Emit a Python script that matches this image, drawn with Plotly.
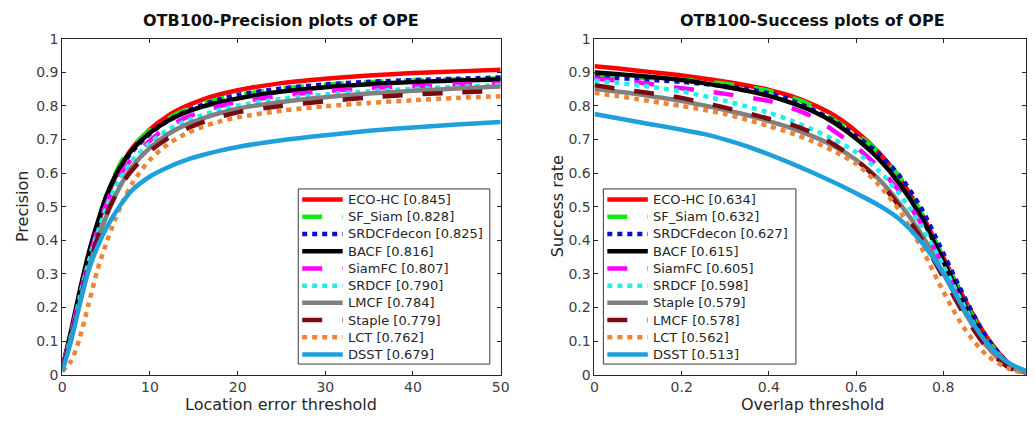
import plotly.graph_objects as go

# ---------------- data ----------------
prec_thresholds = [0, 1, 2, 3, 4, 5, 6, 7, 8, 10, 12, 14, 16, 18, 20, 25, 30, 35, 40, 45, 50]
prec_names = ["ECO-HC", "SF_Siam", "SRDCFdecon", "BACF", "SiamFC", "SRDCF",
              "LMCF", "Staple", "LCT", "DSST"]
prec_scores = [0.845, 0.828, 0.825, 0.816, 0.807, 0.790, 0.784, 0.779, 0.762, 0.679]
prec_eco_hc = [0.02, 0.12, 0.24, 0.35, 0.44, 0.52, 0.585, 0.635, 0.675, 0.73, 0.77, 0.798, 0.819, 0.835, 0.847, 0.868, 0.881, 0.891, 0.898, 0.903, 0.908]
prec_sf_siam = [0.02, 0.12, 0.245, 0.355, 0.45, 0.53, 0.595, 0.645, 0.68, 0.727, 0.762, 0.788, 0.807, 0.821, 0.832, 0.851, 0.863, 0.871, 0.876, 0.879, 0.882]
prec_srdcfdecon = [0.02, 0.12, 0.24, 0.35, 0.44, 0.52, 0.585, 0.63, 0.665, 0.717, 0.755, 0.783, 0.803, 0.82, 0.833, 0.852, 0.864, 0.872, 0.877, 0.881, 0.885]
prec_bacf = [0.02, 0.13, 0.25, 0.36, 0.45, 0.53, 0.59, 0.635, 0.67, 0.72, 0.755, 0.78, 0.798, 0.811, 0.822, 0.843, 0.856, 0.865, 0.871, 0.876, 0.879]
prec_siamfc = [0.02, 0.12, 0.235, 0.34, 0.43, 0.505, 0.565, 0.61, 0.645, 0.697, 0.737, 0.764, 0.784, 0.8, 0.811, 0.831, 0.844, 0.853, 0.859, 0.864, 0.867]
prec_srdcf = [0.02, 0.115, 0.23, 0.335, 0.42, 0.495, 0.555, 0.6, 0.638, 0.69, 0.728, 0.754, 0.773, 0.789, 0.801, 0.821, 0.834, 0.844, 0.851, 0.857, 0.862]
prec_lmcf = [0.02, 0.11, 0.215, 0.315, 0.4, 0.47, 0.53, 0.58, 0.62, 0.675, 0.715, 0.743, 0.763, 0.779, 0.792, 0.812, 0.826, 0.837, 0.845, 0.852, 0.858]
prec_staple = [0.02, 0.11, 0.22, 0.32, 0.405, 0.475, 0.53, 0.575, 0.61, 0.665, 0.703, 0.73, 0.751, 0.768, 0.781, 0.8, 0.814, 0.825, 0.834, 0.84, 0.845]
prec_lct = [0.01, 0.04, 0.11, 0.21, 0.31, 0.39, 0.46, 0.52, 0.57, 0.64, 0.685, 0.716, 0.738, 0.754, 0.766, 0.786, 0.799, 0.809, 0.817, 0.824, 0.829]
prec_dsst = [0.01, 0.1, 0.21, 0.31, 0.38, 0.435, 0.48, 0.518, 0.55, 0.59, 0.617, 0.638, 0.654, 0.667, 0.678, 0.698, 0.713, 0.726, 0.736, 0.745, 0.752]
prec_curves = [prec_eco_hc, prec_sf_siam, prec_srdcfdecon, prec_bacf, prec_siamfc,
               prec_srdcf, prec_lmcf, prec_staple, prec_lct, prec_dsst]

succ_thresholds = [0, 0.05, 0.1, 0.15, 0.2, 0.25, 0.3, 0.35, 0.4, 0.45, 0.5,
                   0.55, 0.6, 0.65, 0.7, 0.75, 0.8, 0.85, 0.9, 0.95, 1.0]
succ_names = ["ECO-HC", "SF_Siam", "SRDCFdecon", "BACF", "SiamFC", "SRDCF",
              "Staple", "LMCF", "LCT", "DSST"]
succ_scores = [0.634, 0.632, 0.627, 0.615, 0.605, 0.598, 0.579, 0.578, 0.562, 0.513]
succ_eco_hc = [0.918, 0.912, 0.905, 0.898, 0.891, 0.882, 0.872, 0.861, 0.848, 0.83, 0.805, 0.772, 0.725, 0.665, 0.585, 0.48, 0.35, 0.222, 0.112, 0.035, 0.003]
succ_sf_siam = [0.89, 0.888, 0.885, 0.882, 0.878, 0.873, 0.866, 0.857, 0.845, 0.826, 0.8, 0.758, 0.717, 0.665, 0.588, 0.482, 0.35, 0.215, 0.105, 0.032, 0.003]
succ_srdcfdecon = [0.885, 0.883, 0.88, 0.876, 0.872, 0.866, 0.859, 0.85, 0.838, 0.818, 0.79, 0.755, 0.712, 0.66, 0.592, 0.495, 0.362, 0.228, 0.11, 0.035, 0.003]
succ_bacf = [0.9, 0.895, 0.89, 0.884, 0.877, 0.868, 0.857, 0.845, 0.83, 0.81, 0.785, 0.75, 0.703, 0.645, 0.568, 0.468, 0.338, 0.205, 0.095, 0.028, 0.002]
succ_siamfc = [0.882, 0.876, 0.87, 0.862, 0.853, 0.845, 0.836, 0.826, 0.815, 0.795, 0.768, 0.725, 0.678, 0.62, 0.545, 0.448, 0.322, 0.195, 0.088, 0.026, 0.002]
succ_srdcf = [0.875, 0.869, 0.862, 0.853, 0.843, 0.83, 0.815, 0.798, 0.78, 0.757, 0.73, 0.7, 0.662, 0.61, 0.537, 0.442, 0.325, 0.2, 0.092, 0.028, 0.002]
succ_staple = [0.851, 0.843, 0.835, 0.825, 0.815, 0.802, 0.788, 0.773, 0.755, 0.735, 0.71, 0.68, 0.64, 0.585, 0.51, 0.418, 0.302, 0.185, 0.085, 0.025, 0.002]
succ_lmcf = [0.862, 0.852, 0.843, 0.834, 0.824, 0.81, 0.795, 0.779, 0.762, 0.745, 0.72, 0.685, 0.64, 0.58, 0.5, 0.405, 0.29, 0.175, 0.08, 0.022, 0.002]
succ_lct = [0.839, 0.83, 0.82, 0.81, 0.8, 0.789, 0.776, 0.759, 0.74, 0.72, 0.695, 0.665, 0.628, 0.568, 0.488, 0.378, 0.248, 0.135, 0.058, 0.018, 0.001]
succ_dsst = [0.776, 0.764, 0.752, 0.741, 0.729, 0.717, 0.700, 0.680, 0.656, 0.630, 0.602, 0.572, 0.540, 0.506, 0.463, 0.395, 0.303, 0.19, 0.095, 0.035, 0.006]
succ_curves = [succ_eco_hc, succ_sf_siam, succ_srdcfdecon, succ_bacf, succ_siamfc,
               succ_srdcf, succ_staple, succ_lmcf, succ_lct, succ_dsst]

y_ticks = [0, 0.1, 0.2, 0.3, 0.4, 0.5, 0.6, 0.7, 0.8, 0.9, 1]
y_tick_labels = ["0", "0.1", "0.2", "0.3", "0.4", "0.5", "0.6", "0.7", "0.8", "0.9", "1"]
prec_x_ticks = [0, 10, 20, 30, 40, 50]
succ_x_ticks = [0, 0.2, 0.4, 0.6, 0.8, 1.0]
succ_x_labels = ["0", "0.2", "0.4", "0.6", "0.8", "1"]

# ---------------- styles (by rank) ----------------
rank_colors = ["#ff0000", "#13ec13", "#0a10c8", "#000000", "#ff00ff",
               "#22eef0", "#808080", "#7a0a12", "#ee8436", "#1ea0dc"]
rank_dashes = ["solid", "20px,20px", "5px,5px", "solid", "20px,20px",
               "5px,5px", "solid", "20px,20px", "5px,5px", "solid"]
LW = 4.5

W, H = 1035, 425
FONT = "DejaVu Sans"
TXT = "#262626"

def px_x(p):
    return p / W

def px_y(p):
    return 1 - p / H

fig = go.Figure()

for i in range(len(prec_names)):
    fig.add_trace(go.Scatter(
        x=prec_thresholds, y=prec_curves[i], mode="lines",
        name=f"{prec_names[i]} [{prec_scores[i]:.3f}]",
        line=dict(color=rank_colors[i], dash=rank_dashes[i], width=LW, shape="spline", smoothing=0.8),
        xaxis="x", yaxis="y", showlegend=False, hoverinfo="skip"))

for i in range(len(succ_names)):
    fig.add_trace(go.Scatter(
        x=succ_thresholds, y=succ_curves[i], mode="lines",
        name=f"{succ_names[i]} [{succ_scores[i]:.3f}]",
        line=dict(color=rank_colors[i], dash=rank_dashes[i], width=LW, shape="spline", smoothing=0.8),
        xaxis="x2", yaxis="y2", showlegend=False, hoverinfo="skip"))

# ---------------- legends (drawn as boxes, samples and text) ----------------
shapes = []
annotations = []

def add_legend(left, right, names, scores):
    top, bottom = 188, 370
    shapes.append(dict(type="rect", xref="paper", yref="paper",
                       x0=px_x(left), x1=px_x(right), y0=px_y(bottom), y1=px_y(top),
                       line=dict(color="#3a3a3a", width=1), fillcolor="white", layer="above"))
    row0, step = 199, 17.9
    for i, (nm, sc) in enumerate(zip(names, scores)):
        yy = row0 + i * step
        shapes.append(dict(type="line", xref="paper", yref="paper",
                           x0=px_x(left + 4), x1=px_x(left + 45), y0=px_y(yy), y1=px_y(yy),
                           line=dict(color=rank_colors[i], dash=rank_dashes[i], width=LW),
                           layer="above"))
        annotations.append(dict(text=f"{nm} [{sc:.3f}]", x=px_x(left + 48), y=px_y(yy),
                                xref="paper", yref="paper", showarrow=False,
                                xanchor="left", yanchor="middle",
                                font=dict(family=FONT, size=13, color=TXT)))

add_legend(298, 492, prec_names, prec_scores)
add_legend(607, 802, succ_names, succ_scores)

def center_text(text, x, y, size, color, angle=0):
    annotations.append(dict(text=text, x=px_x(x), y=px_y(y), textangle=angle,
                            xref="paper", yref="paper", showarrow=False,
                            xanchor="center", yanchor="middle",
                            font=dict(family=FONT, size=size, color=color)))

center_text("<b>OTB100-Precision plots of OPE</b>", 281, 13, 16, "#111111")
center_text("<b>OTB100-Success plots of OPE</b>", 819, 13, 16, "#111111")
center_text("Location error threshold", 281, 412, 16, TXT)
center_text("Overlap threshold", 819, 412, 16, TXT)
center_text("Precision", 18, 206, 16, TXT, -90)
center_text("Success rate", 560, 206, 16, TXT, -90)

ydom = [px_y(381), px_y(32)]
axis_common = dict(showline=True, linecolor=TXT, linewidth=1, mirror="ticks",
                   ticks="inside", ticklen=4, tickcolor=TXT, showgrid=False,
                   zeroline=False, tickfont=dict(family=FONT, size=14, color="#404040"))

fig.update_layout(
    width=W, height=H, margin=dict(l=0, r=0, t=0, b=0),
    paper_bgcolor="white", plot_bgcolor="white", showlegend=False,
    xaxis=dict(domain=[px_x(59), px_x(503)], range=[0, 50], tickvals=prec_x_ticks,
               anchor="y", **axis_common),
    yaxis=dict(domain=ydom, range=[0, 1], tickvals=y_ticks, ticktext=y_tick_labels,
               anchor="x", **axis_common),
    xaxis2=dict(domain=[px_x(598), 1.0], range=[0, 0.99], tickvals=succ_x_ticks,
                ticktext=succ_x_labels, anchor="y2", **axis_common),
    yaxis2=dict(domain=ydom, range=[0, 1], tickvals=y_ticks, ticktext=y_tick_labels,
                anchor="x2", **axis_common),
    shapes=shapes,
    annotations=annotations,
)

fig.write_html("out.html", config={"displayModeBar": False},
               post_script="document.body.style.margin='0px';")
